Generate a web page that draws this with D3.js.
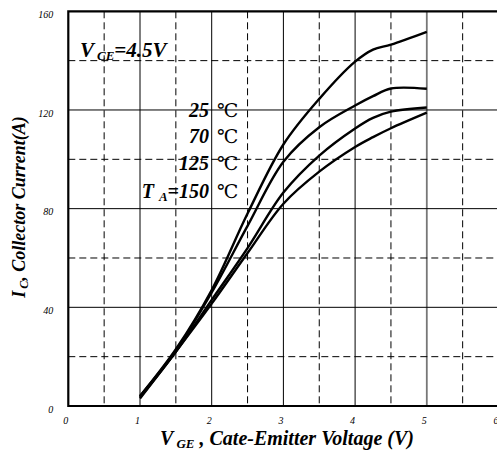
<!DOCTYPE html>
<html>
<head>
<meta charset="utf-8">
<script src="https://cdn.jsdelivr.net/npm/d3@7"></script>
<style>
  body { margin: 0; background: #fff; }
  svg { display: block; font-family: "Liberation Serif", "Times New Roman", serif; }
</style>
</head>
<body>
<div id="chart"></div>
<script>
// gate voltage samples and collector current per junction temperature
const vge = [1, 1.5, 2, 2.5, 3, 3.5, 4, 4.25, 4.5, 5];
const ic25 = [4, 23, 47, 78, 106, 124.5, 139.6, 144.5, 146.5, 151.7];
const ic70 = [4, 22.5, 46, 73, 99, 113, 121.8, 125.6, 128.7, 128.6];
const ic125 = [3.5, 22, 43, 64, 86.5, 101.5, 112.5, 116.8, 119.3, 121];
const ic150 = [3, 22, 41.5, 62, 82, 95, 105, 109, 112.6, 118.9];

const xTicks = [0, 1, 2, 3, 4, 5, 6];
const yTicks = [0, 40, 80, 120, 160];
const xSolid = [1, 2, 3, 4, 5];
const xDashed = [0.5, 1.5, 2.5, 3.5, 4.5, 5.5];
const ySolid = [40, 80, 120];
const yDashed = [20, 60, 100, 140];

const tempLabels = ['25', '70', '125', '150'];

const width = 497, height = 463;
const svg = d3.select('#chart').append('svg')
  .attr('width', width).attr('height', height);

const x = d3.scaleLinear().domain([0, 6]).range([68.3, 498.5]);
const y = d3.scaleLinear().domain([0, 160]).range([406, 11.3]);
const plotTop = y(160), plotBottom = y(0), plotLeft = x(0), plotRight = x(6);

// grid
const grid = svg.append('g');
grid.selectAll('.vs').data(xSolid).enter().append('line')
  .attr('x1', d => x(d)).attr('x2', d => x(d)).attr('y1', plotTop).attr('y2', plotBottom)
  .attr('stroke', d => d === 5 ? '#777' : '#000')
  .attr('stroke-width', d => d === 5 ? 1.8 : 1);
grid.selectAll('.vd').data(xDashed).enter().append('line')
  .attr('x1', d => x(d)).attr('x2', d => x(d)).attr('y1', plotTop).attr('y2', plotBottom)
  .attr('stroke', '#000').attr('stroke-width', 1).attr('stroke-dasharray', '7,4');
grid.selectAll('.hs').data(ySolid).enter().append('line')
  .attr('y1', d => y(d)).attr('y2', d => y(d)).attr('x1', plotLeft).attr('x2', plotRight)
  .attr('stroke', '#000').attr('stroke-width', 1);
grid.selectAll('.hd').data(yDashed).enter().append('line')
  .attr('y1', d => y(d)).attr('y2', d => y(d)).attr('x1', plotLeft).attr('x2', plotRight)
  .attr('stroke', '#000').attr('stroke-width', 1).attr('stroke-dasharray', '7,4');

// frame
svg.append('path')
  .attr('d', `M${plotRight},${plotTop}H${plotLeft}V${plotBottom}H${plotRight}`)
  .attr('fill', 'none').attr('stroke', '#000').attr('stroke-width', 2.2);

// tick labels
const xAxis = svg.append('g').attr('transform', `translate(-3,${plotBottom})`)
  .call(d3.axisBottom(x).tickValues(xTicks).tickSize(0).tickPadding(11).tickFormat(d3.format('d')));
const yAxis = svg.append('g').attr('transform', `translate(${plotLeft - 15},3)`)
  .call(d3.axisLeft(y).tickValues(yTicks).tickSize(0).tickPadding(0).tickFormat(d3.format('d')));
[xAxis, yAxis].forEach(a => {
  a.select('.domain').remove();
  a.selectAll('text')
    .attr('font-family', '"Liberation Serif", serif')
    .attr('font-style', 'italic')
    .attr('font-size', 10)
    .attr('fill', '#000');
});

// curves
const line = d3.line().x(d => x(d[0])).y(d => y(d[1])).curve(d3.curveCatmullRom.alpha(0.5));
[ic25, ic70, ic125, ic150].forEach(series => {
  svg.append('path')
    .datum(vge.map((v, i) => [v, series[i]]))
    .attr('d', line)
    .attr('fill', 'none').attr('stroke', '#000').attr('stroke-width', 2.4)
    .attr('stroke-linejoin', 'round');
});

// annotation text
const bi = sel => sel.attr('font-weight', 'bold').attr('font-style', 'italic').attr('fill', '#000');

const vce = svg.append('text').attr('x', 80).attr('y', 57).attr('font-size', 21).call(bi);
vce.append('tspan').text('V');
vce.append('tspan').attr('font-size', 13).attr('dx', 3).attr('dy', 3).text('CE');
vce.append('tspan').attr('dy', -3).text('=4.5V');

const labelY = [117, 143, 170, 198];
tempLabels.forEach((t, i) => {
  const g = svg.append('text').attr('x', 209).attr('y', labelY[i]).attr('font-size', 20)
    .attr('text-anchor', 'end').call(bi);
  if (i === 3) {
    g.append('tspan').text('T');
    g.append('tspan').attr('font-size', 13).attr('dx', 5).attr('dy', 3).text('A');
    g.append('tspan').attr('dy', -3).text('=' + t);
  } else {
    g.text(t);
  }
  svg.append('text').attr('x', 217).attr('y', labelY[i]).attr('font-size', 19)
    .attr('font-family', '"DejaVu Serif", serif').attr('fill', '#000').text('℃');
});

// axis titles
const xt = svg.append('text').attr('x', 287).attr('y', 445).attr('font-size', 20)
  .attr('text-anchor', 'middle').call(bi);
xt.append('tspan').text('V');
xt.append('tspan').attr('font-size', 13).attr('dx', 3).attr('dy', 3).text('GE');
xt.append('tspan').attr('dy', -3).text(' , Cate-Emitter Voltage (V)');

const yt = svg.append('text').attr('transform', 'translate(25,207) rotate(-90)')
  .attr('font-size', 18).attr('text-anchor', 'middle').call(bi);
yt.append('tspan').text('I');
yt.append('tspan').attr('font-size', 12).attr('dx', 2).attr('dy', 3).text('C');
yt.append('tspan').attr('dy', -3).text(',  Collector Current(A)');
</script>
</body>
</html>
